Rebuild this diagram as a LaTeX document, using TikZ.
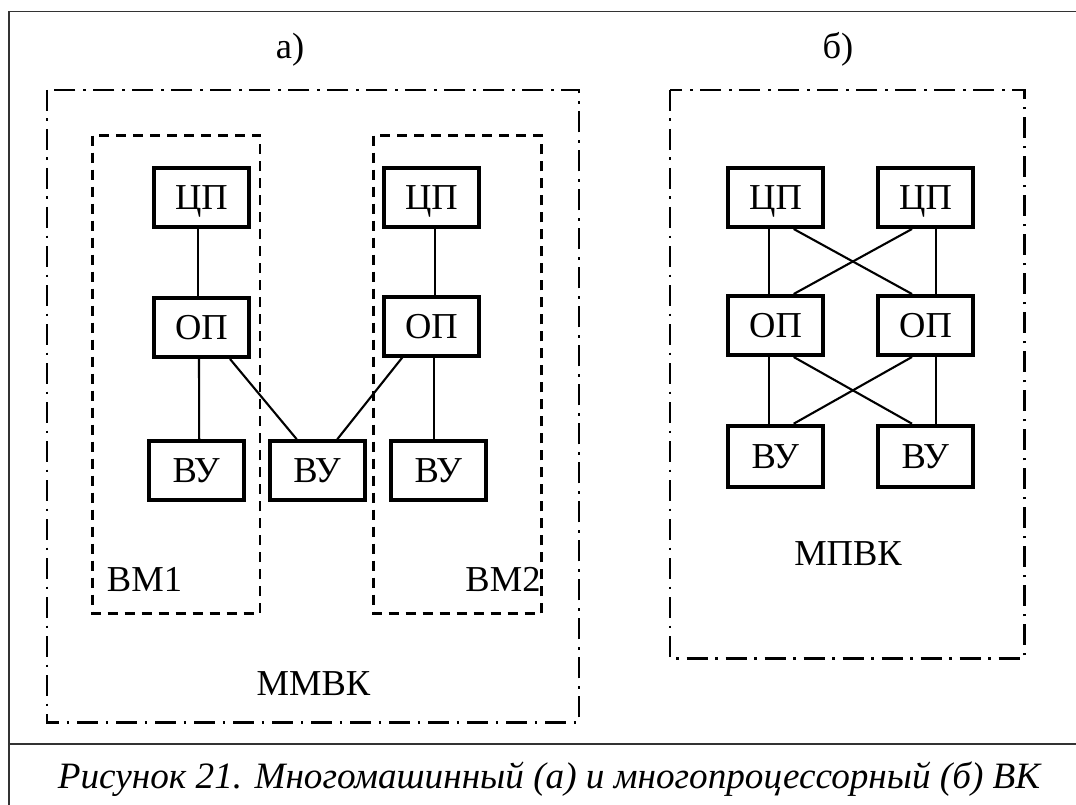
\documentclass[tikz,border=0pt]{standalone}
\usepackage{fontspec}
\setmainfont{Liberation Serif}
\newcommand{\lblfont}{\fontsize{36.5}{40}\selectfont}
\newcommand{\capfont}{\fontsize{37.2}{42}\selectfont\itshape}
\begin{document}
\begin{tikzpicture}[x=1pt,y=-1pt,
  blk/.style={draw, line width=4pt, minimum width=95pt, minimum height=59pt,
              inner sep=0pt, text height=24pt, text depth=0pt, font=\lblfont},
  wire/.style={line width=2.1pt},
  grp/.style={line width=2.6pt, dash pattern=on 21pt off 7.5pt on 2.5pt off 8pt},
  vmbox/.style={line width=2.5pt, dash pattern=on 10pt off 7pt},
  lbl/.style={inner sep=0pt, anchor=base, font=\lblfont},
  frame/.style={line width=1.6pt, black!80}]
\useasboundingbox (0,0) rectangle (1076,805);

% outer frame and caption divider
\draw[frame] (1076,11.7) -- (9,11.7) -- (9,805);
\draw[frame] (9,743.7) -- (1076,743.7);

% titles
\node[lbl] (ta) at (290,58.5) {а)};
\node[lbl] (tb) at (838,58.5) {б)};

% group boxes
\draw[grp] (47,90) rectangle (579,722.7);
\draw[grp] (670,90) rectangle (1024.3,658.3);
\draw[vmbox] (92.5,135.7) rectangle (260,613.7);
\draw[vmbox] (373.7,135.7) rectangle (541.3,613.7);

% a) nodes
\node[blk] (c1) at (201.5,197.5) {ЦП};
\node[blk] (o1) at (201.5,327.5) {ОП};
\node[blk] (v1) at (196.2,470.7) {ВУ};
\node[blk] (vm) at (317,470.7) {ВУ};
\node[blk] (c2) at (431.5,197.5) {ЦП};
\node[blk] (o2) at (431.5,326) {ОП};
\node[blk] (v3) at (438.3,470.7) {ВУ};

\draw[wire] ([xshift=-3.5pt]c1.south) -- ([xshift=-3.5pt]o1.north);
\draw[wire] ([xshift=-2.5pt]o1.south) -- ([xshift=3pt]v1.north);
\draw[wire] ([xshift=28.5pt]o1.south) -- ([xshift=-20.3pt]vm.north);
\draw[wire] ([xshift=-29.2pt]o2.south) -- ([xshift=20.3pt]vm.north);
\draw[wire] ([xshift=3.2pt]c2.south) -- ([xshift=3.2pt]o2.north);
\draw[wire] ([xshift=2.5pt]o2.south) -- ([xshift=-4.3pt]v3.north);

\node[lbl] (vm1) at (144.5,591.3) {ВМ1};
\node[lbl] (vm2) at (503,591.3) {ВМ2};
\node[lbl] (mmvk) at (313.5,695.3) {ММВК};

% b) nodes
\node[blk] (pc1) at (775.5,197.5) {ЦП};
\node[blk] (pc2) at (925.5,197.5) {ЦП};
\node[blk] (po1) at (775.5,325.5) {ОП};
\node[blk] (po2) at (925.5,325.5) {ОП};
\node[blk, minimum height=61pt] (pv1) at (775.3,456.2) {ВУ};
\node[blk, minimum height=61pt] (pv2) at (925.3,456.2) {ВУ};

\draw[wire] ([xshift=-6.2pt]pc1.south) -- ([xshift=-6.2pt]po1.north);
\draw[wire] ([xshift=10.5pt]pc2.south) -- ([xshift=10.5pt]po2.north);
\draw[wire] ([xshift=18.2pt]pc1.south) -- ([xshift=-13.5pt]po2.north);
\draw[wire] ([xshift=-13.5pt]pc2.south) -- ([xshift=18.2pt]po1.north);

\draw[wire] ([xshift=-6.2pt]po1.south) -- ([xshift=-6pt]pv1.north);
\draw[wire] ([xshift=10.5pt]po2.south) -- ([xshift=10.7pt]pv2.north);
\draw[wire] ([xshift=18.2pt]po1.south) -- ([xshift=-13.3pt]pv2.north);
\draw[wire] ([xshift=-13.5pt]po2.south) -- ([xshift=18.4pt]pv1.north);

\node[lbl] (mpvk) at (848,565.3) {МПВК};

% caption
\node[inner sep=0pt, anchor=base, font=\capfont] (cap) at (549,788.7)
  {Рисунок 21. Многомашинный (а) и многопроцессорный (б) ВК};
\end{tikzpicture}
\end{document}
